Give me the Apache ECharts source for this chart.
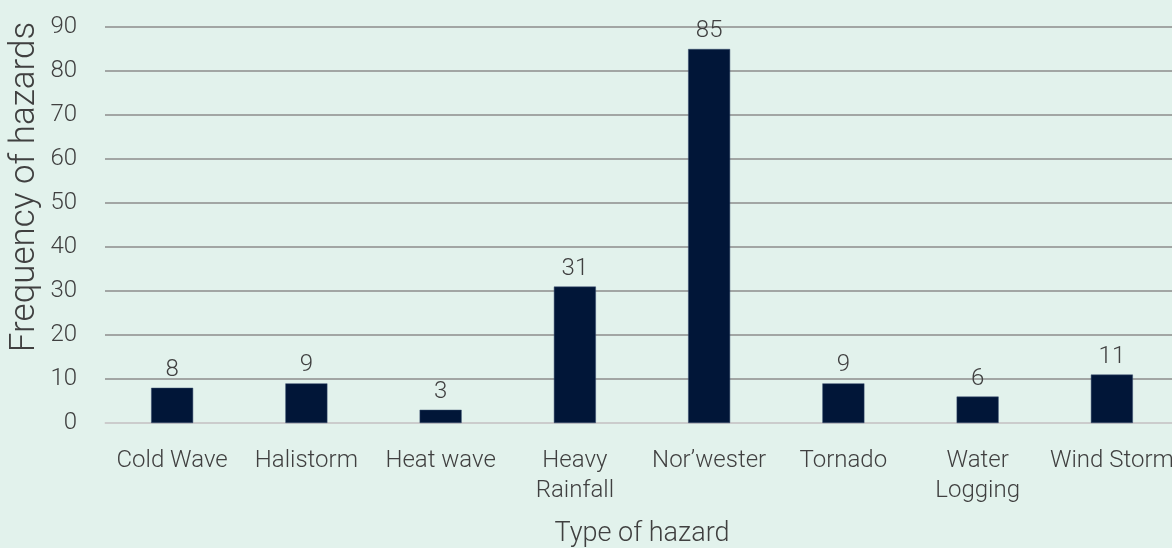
<!DOCTYPE html>
<html><head><meta charset="utf-8">
<script src="https://cdn.jsdelivr.net/npm/echarts@6/dist/echarts.min.js"></script>
<style>html,body{margin:0;padding:0;background:#e2f2ec;}#c{width:1172px;height:548px;}</style>
</head><body><div id="c"></div>
<script>
const categories = ['Cold Wave','Halistorm','Heat wave','Heavy\nRainfall','Nor\u2019wester','Tornado','Water\nLogging','Wind Storm'];
const values = [8, 9, 3, 31, 85, 9, 6, 11];
const yTicks = { min: 0, max: 90, interval: 10 };
const xTitle = 'Type of hazard';
const yTitle = 'Frequency of hazards';
const font = 'Roboto';
const chart = echarts.init(document.getElementById('c'));
chart.setOption({
  backgroundColor: '#e2f2ec',
  textStyle: { fontFamily: font },
  grid: { left: 105, top: 27, width: 1074, bottom: 125, containLabel: false, outerBoundsMode: 'none' },
  graphic: [{
    type: 'text', x: 25, y: 187, rotation: Math.PI / 2,
    style: { text: yTitle, fontSize: 35, fontWeight: 300, fontFamily: font, fill: '#404040', align: 'center', verticalAlign: 'middle' }
  }],
  xAxis: {
    type: 'category', data: categories,
    name: xTitle, nameLocation: 'middle', nameGap: 98,
    nameTextStyle: { fontSize: 27, color: '#404040', fontWeight: 300, fontFamily: font },
    axisLine: { lineStyle: { color: '#d9d9d9', width: 1.5 } },
    axisTick: { show: false },
    axisLabel: { interval: 0, fontSize: 24, color: '#404040', fontWeight: 300, margin: 23, lineHeight: 30, fontFamily: font }
  },
  yAxis: {
    type: 'value', min: yTicks.min, max: yTicks.max, interval: yTicks.interval,
    axisLine: { show: false }, axisTick: { show: false },
    axisLabel: { fontSize: 24, color: '#404040', fontWeight: 300, margin: 28, fontFamily: font },
    splitLine: { lineStyle: { color: '#8c8c8c', width: 1.5 } }
  },
  series: [{
    type: 'bar', data: values, barWidth: 42,
    itemStyle: { color: '#011638', borderColor: '#3a4e6e', borderWidth: 0.5 },
    label: { show: true, position: 'top', distance: 6, fontSize: 24, color: '#404040', fontWeight: 300, fontFamily: font }
  }]
});
</script></body></html>
